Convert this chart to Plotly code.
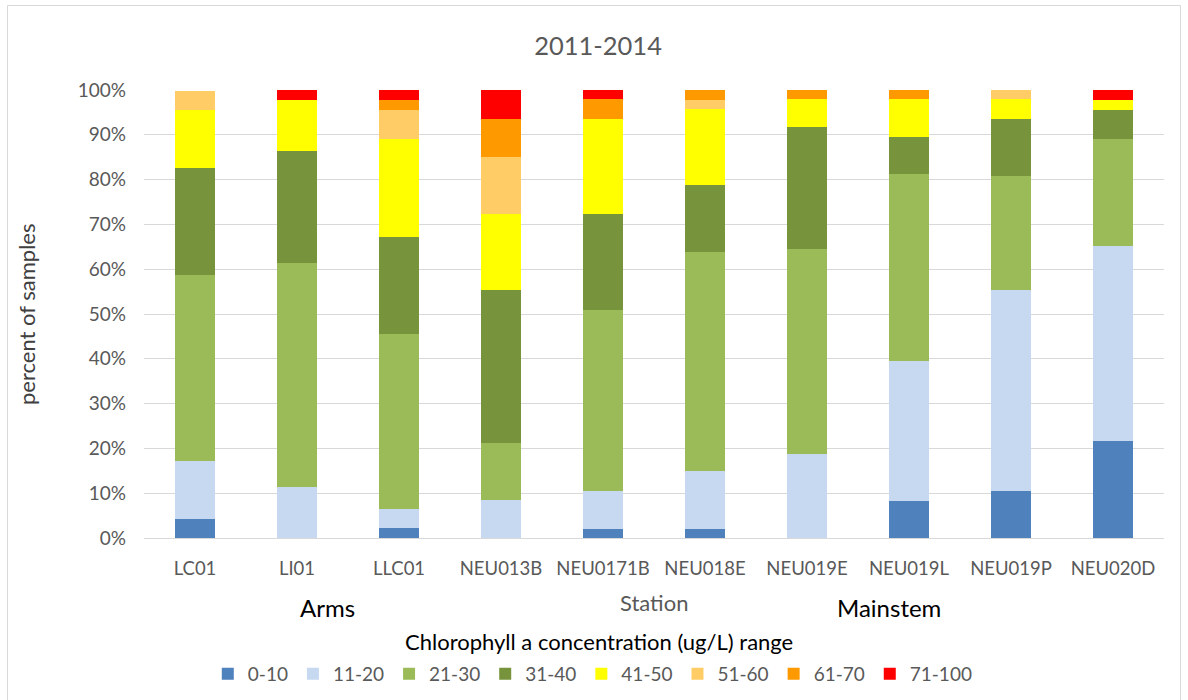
import plotly.graph_objects as go

stations = ["LC01", "LI01", "LLC01", "NEU013B", "NEU0171B", "NEU018E",
            "NEU019E", "NEU019L", "NEU019P", "NEU020D"]

ranges = ["0-10", "11-20", "21-30", "31-40", "41-50", "51-60", "61-70", "71-100"]
colors = ["#4f81bd", "#c6d9f1", "#9bbb59", "#77933c", "#ffff00", "#ffcc66", "#ff9900", "#ff0000"]

# percent of samples per range, per station
r_0_10   = [4.3, 0.0, 2.2, 0.0, 2.1, 2.1, 0.0, 8.3, 10.6, 21.7]
r_11_20  = [13.0, 11.4, 4.3, 8.5, 8.5, 12.8, 18.8, 31.3, 44.7, 43.5]
r_21_30  = [41.3, 50.0, 39.1, 12.8, 40.4, 48.9, 45.8, 41.7, 25.5, 23.9]
r_31_40  = [23.9, 25.0, 21.7, 34.0, 21.3, 14.9, 27.1, 8.3, 12.8, 6.5]
r_41_50  = [13.0, 11.4, 21.7, 17.0, 21.3, 17.0, 6.3, 8.3, 4.3, 2.2]
r_51_60  = [4.3, 0.0, 6.5, 12.8, 0.0, 2.1, 0.0, 0.0, 2.1, 0.0]
r_61_70  = [0.0, 0.0, 2.2, 8.5, 4.3, 2.1, 2.1, 2.1, 0.0, 0.0]
r_71_100 = [0.0, 2.3, 2.2, 6.4, 2.1, 0.0, 0.0, 0.0, 0.0, 2.2]

series = [r_0_10, r_11_20, r_21_30, r_31_40, r_41_50, r_51_60, r_61_70, r_71_100]

FONT = "Lato, Roboto, sans-serif"
GRAY = "#595959"
H = 700

fig = go.Figure()
for name, vals, col in zip(ranges, series, colors):
    fig.add_trace(go.Bar(x=stations, y=vals, name=name,
                         marker=dict(color=col, line=dict(width=0))))

fig.update_layout(
    barmode="stack",
    bargap=0.6,
    width=1188, height=H,
    margin=dict(l=144, r=24, t=90, b=H - 538),
    paper_bgcolor="white", plot_bgcolor="white",
    font=dict(family=FONT, color=GRAY, size=15),
    title=dict(text="2011-2014", x=0.5034, xanchor="center", y=1 - 46 / H, yanchor="middle",
               font=dict(size=25.5, color=GRAY, family=FONT)),
    showlegend=True,
    legend=dict(orientation="h", x=0.44, xanchor="center",
                yref="container", y=1 - 674 / H, yanchor="middle",
                font=dict(size=19, color=GRAY, family=FONT), traceorder="normal",
                itemwidth=30, itemclick=False),
)
fig.update_yaxes(range=[0, 100], dtick=10, ticksuffix="%", showgrid=True,
                 gridcolor="#d9d9d9", gridwidth=1, zeroline=False, ticks="",
                 tickfont=dict(size=19, color=GRAY), showline=False,
                 ticklabelstandoff=17)
fig.update_xaxes(showline=True, linecolor="#d9d9d9", linewidth=1, ticks="",
                 tickfont=dict(size=18.5, color=GRAY), showgrid=False,
                 ticklabelstandoff=14)

annots = [
    dict(text="Station", x=0.5, y=-0.143, size=22, color=GRAY, angle=0),
    dict(text="Arms", x=0.18, y=-0.156, size=24, color="black", angle=0),
    dict(text="Mainstem", x=0.73, y=-0.156, size=24, color="black", angle=0),
    dict(text="Chlorophyll a concentration (ug/L) range", x=0.4456, y=-0.23, size=22,
         color="black", angle=0),
    dict(text="percent of samples", x=-0.1157, y=0.5, size=22, color="#404040", angle=-90),
]
for a in annots:
    fig.add_annotation(text=a["text"], x=a["x"], y=a["y"], xref="paper", yref="paper",
                       showarrow=False, xanchor="center", yanchor="middle", textangle=a["angle"],
                       font=dict(size=a["size"], color=a["color"], family=FONT))

# outer chart border
fig.add_shape(type="rect", xref="paper", yref="paper",
              x0=(7.5 - 144) / 1020, x1=(1180.5 - 144) / 1020,
              y0=-0.4, y1=(538 - 5.5) / 448,
              line=dict(color="#d9d9d9", width=1), fillcolor="rgba(0,0,0,0)", layer="below")

fig.write_html("out.html", config={"displayModeBar": False},
               post_script="document.body.style.margin='0px';")
